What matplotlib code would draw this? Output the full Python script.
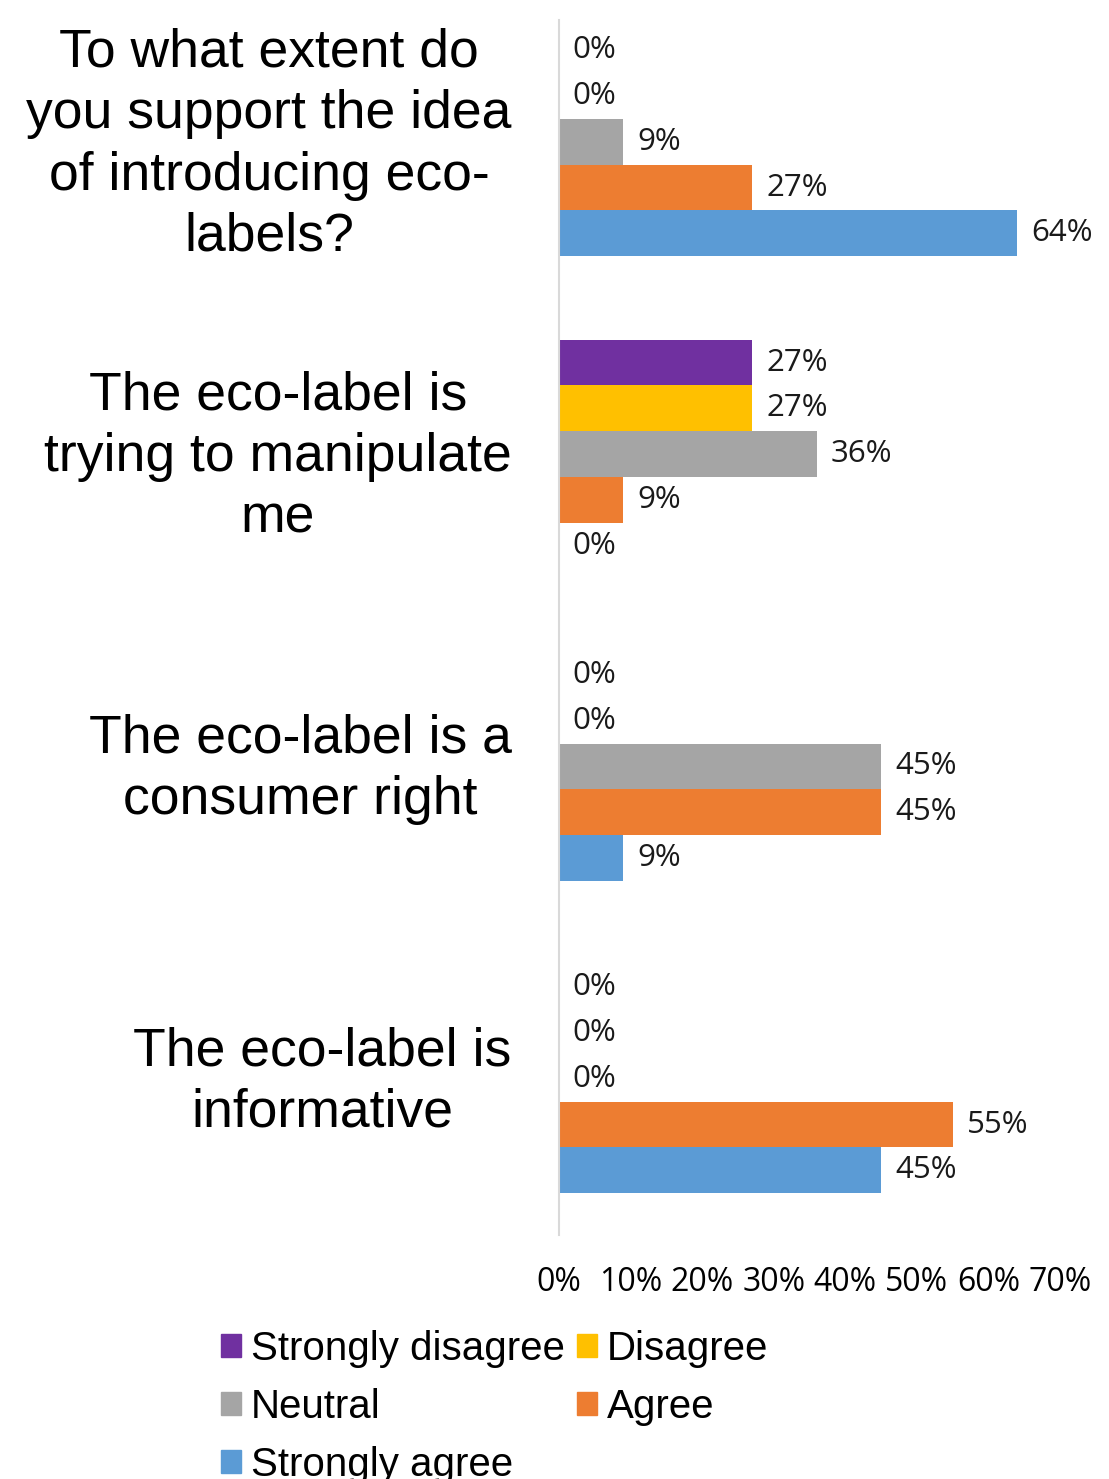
import numpy as np
import matplotlib
matplotlib.use("Agg")
import matplotlib.pyplot as plt
import matplotlib.transforms as mtransforms
from matplotlib.patches import Patch

# Survey answers (% of respondents), one list per answer option
questions = [
    "To what extent do\nyou support the idea\nof introducing eco-\nlabels?",
    "The eco-label is\ntrying to manipulate\nme",
    "The eco-label is a\nconsumer right",
    "The eco-label is\ninformative",
]
answers = ["Strongly disagree", "Disagree", "Neutral", "Agree", "Strongly agree"]
strongly_disagree = [0, 27, 0, 0]
disagree = [0, 27, 0, 0]
neutral = [9, 36, 45, 0]
agree = [27, 9, 45, 55]
strongly_agree = [64, 0, 9, 45]
colors = ["#7030A0", "#FFC000", "#A5A5A5", "#ED7D31", "#5B9BD5"]
x_ticks = [0, 10, 20, 30, 40, 50, 60, 70]

series = [strongly_disagree, disagree, neutral, agree, strongly_agree]

fig = plt.figure(figsize=(11.09, 14.79), dpi=100)
ax = fig.add_axes([0.504, 0.165, 0.452, 0.8215])

y = np.arange(len(questions))
w = 0.1465
for k, (vals, name, c) in enumerate(zip(series, answers, colors)):
    bars = ax.barh(y + (k - 2) * w, vals, height=w, color=c, label=name)
    ax.bar_label(bars, labels=[f"{v}%" for v in vals], padding=10,
                 fontsize=22.5, family="Open Sans", color="#1a1a1a")

ax.set_xlim(0, 70)
ax.set_ylim(3.5, -0.39)
ax.set_xticks(x_ticks)
ax.set_xticklabels([f"{t}%" for t in x_ticks], family="Open Sans", fontsize=23)
ax.set_yticks(y)
ax.set_yticklabels(questions, family="Liberation Sans", fontsize=38.5,
                   multialignment="center", linespacing=1.29)
ax.tick_params(axis="both", length=0)
ax.tick_params(axis="y", pad=34)
ax.tick_params(axis="x", pad=22)

# nudge the question texts up a little
shift = mtransforms.ScaledTranslation(0, 0.08, fig.dpi_scale_trans)
for lab in ax.get_yticklabels():
    lab.set_transform(lab.get_transform() + shift)

for s in ["top", "right", "bottom"]:
    ax.spines[s].set_visible(False)
ax.spines["left"].set_color("#D9D9D9")
ax.spines["left"].set_linewidth(1.5)

# legend filled row by row like the original: reorder handles
handles = [Patch(color=c) for c in colors]
order = [0, 2, 4, 1, 3]
fig.legend([handles[i] for i in order], [answers[i] for i in order],
           loc="upper left", bbox_to_anchor=(0.199, 0.101), ncol=2,
           frameon=False, prop={"family": "Liberation Sans", "size": 29},
           handlelength=0.5, handleheight=0.5, handletextpad=0.25,
           columnspacing=0.3, labelspacing=0.5, borderpad=0, borderaxespad=0)

fig.savefig("out.png", dpi=100)
